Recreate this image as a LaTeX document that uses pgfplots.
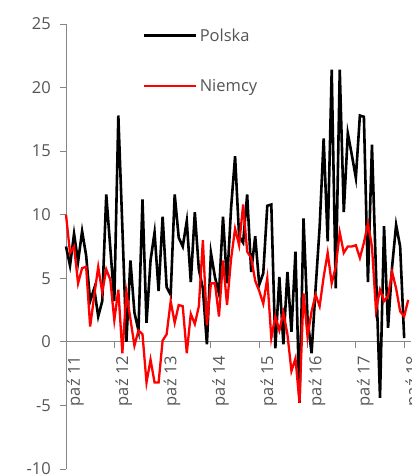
\documentclass[border=0pt]{standalone}
\usepackage{fontspec}
\setmainfont{Open Sans}
\usepackage{pgfplots}
\usepackage{pgfplotstable}
\pgfplotsset{compat=1.18}
\definecolor{axgray}{RGB}{134,134,134}
\definecolor{txtgray}{RGB}{85,85,85}

\pgfplotstableread{
i v
0 7.5
1 6.0
2 8.5
3 6.3
4 8.7
5 6.8
6 3.2
7 4.2
8 2.0
9 3.2
10 11.6
11 7.4
12 3.2
13 17.8
14 9.0
15 0.0
16 6.4
17 2.3
18 0.9
19 11.2
20 1.5
21 6.4
22 8.6
23 4.0
24 9.85
25 4.3
26 3.7
27 11.6
28 8.2
29 7.5
30 9.5
31 4.7
32 10.2
33 5.7
34 4.2
35 -0.2
36 7.0
37 5.1
38 3.8
39 9.85
40 4.6
41 10.5
42 14.6
43 8.3
44 7.8
45 11.6
46 5.5
47 8.3
48 4.5
49 5.4
50 10.7
51 10.8
52 -0.5
53 5.1
54 -0.2
55 5.5
56 0.8
57 7.1
58 -4.8
59 9.7
60 1.8
61 -0.9
62 4.2
63 9.0
64 16.0
65 7.9
66 21.4
67 4.2
68 21.4
69 10.2
70 16.4
71 14.7
72 12.9
73 17.8
74 17.7
75 4.7
76 15.5
77 5.5
78 -4.4
79 9.1
80 1.1
81 5.9
82 9.2
83 7.5
84 0.3
}\polska

\pgfplotstableread{
i v
0 10.0
1 7.0
2 7.5
3 4.6
4 5.8
5 5.9
6 1.2
7 3.6
8 5.9
9 3.9
10 5.7
11 4.9
12 1.7
13 4.1
14 -0.9
15 3.9
16 1.8
17 -0.3
18 0.9
19 0.6
20 -3.2
21 -1.4
22 -3.2
23 -3.2
24 0.1
25 0.6
26 3.2
27 1.5
28 2.9
29 2.8
30 -0.9
31 2.2
32 1.4
33 2.8
34 8.0
35 1.3
36 4.6
37 4.6
38 2.0
39 6.4
40 2.9
41 6.5
42 8.9
43 7.6
44 10.8
45 7.1
46 6.6
47 4.8
48 4.0
49 3.0
50 5.0
51 0.3
52 2.0
53 0.9
54 2.3
55 0.6
56 -2.3
57 -1.3
58 -4.8
59 3.8
60 0.4
61 2.4
62 3.7
63 2.8
64 5.1
65 7.0
66 4.6
67 5.9
68 8.6
69 7.0
70 7.5
71 7.5
72 7.6
73 6.6
74 7.8
75 9.3
76 7.5
77 2.5
78 4.1
79 3.2
80 3.6
81 5.5
82 4.2
83 2.4
84 2.0
85 3.3
}\niemcy

\begin{document}
\begin{tikzpicture}
\begin{axis}[
  scale only axis, width=345pt, height=445pt,
  xmin=0, xmax=85.7, ymin=-10, ymax=25,
  axis x line=middle, axis y line=left,
  axis line style={draw=axgray, line width=0.9pt, -},
  hide obscured x ticks=false, hide obscured y ticks=false,
  xtick={0,12,24,36,48,60,72,84},
  xticklabels={paź 11,paź 12,paź 13,paź 14,paź 15,paź 16,paź 17,paź 18},
  ytick={-10,-5,0,5,10,15,20,25},
  yticklabels={-10,-5,0,5,10,15,20,25},
  tick align=outside,
  major tick length=6pt,
  tick style={draw=axgray, line width=0.9pt},
  every tick label/.append style={font=\fontsize{16.5}{19}\selectfont, text=txtgray},
  xticklabel style={xshift=1pt, yshift=-8pt, rotate=90, anchor=north east, inner sep=0pt},
  yticklabel style={anchor=east, inner sep=0pt, xshift=-9pt},
  legend style={at={(axis cs:19.0,24.86)}, anchor=north west, draw=none, fill=none,
    inner sep=0pt, row sep=32pt, font=\fontsize{16.5}{19}\selectfont, text=txtgray,
    cells={anchor=west}, nodes={inner sep=2.5pt}},
  legend image code/.code={\draw[#1] (0pt,0pt) -- (52pt,0pt);},
  clip=false,
]
\addplot[black, line width=2.6pt, mark=none] table[x=i, y=v] {\polska};
\addlegendentry{Polska}
\addplot[red, line width=2.3pt, mark=none] table[x=i, y=v] {\niemcy};
\addlegendentry{Niemcy}
\coordinate (bl) at (rel axis cs:0,0);
\coordinate (tr) at (rel axis cs:1,1);
\end{axis}
\pgfresetboundingbox
\useasboundingbox ([xshift=-66pt, yshift=-6pt]bl) rectangle ([yshift=24pt]tr);
\end{tikzpicture}
\end{document}
